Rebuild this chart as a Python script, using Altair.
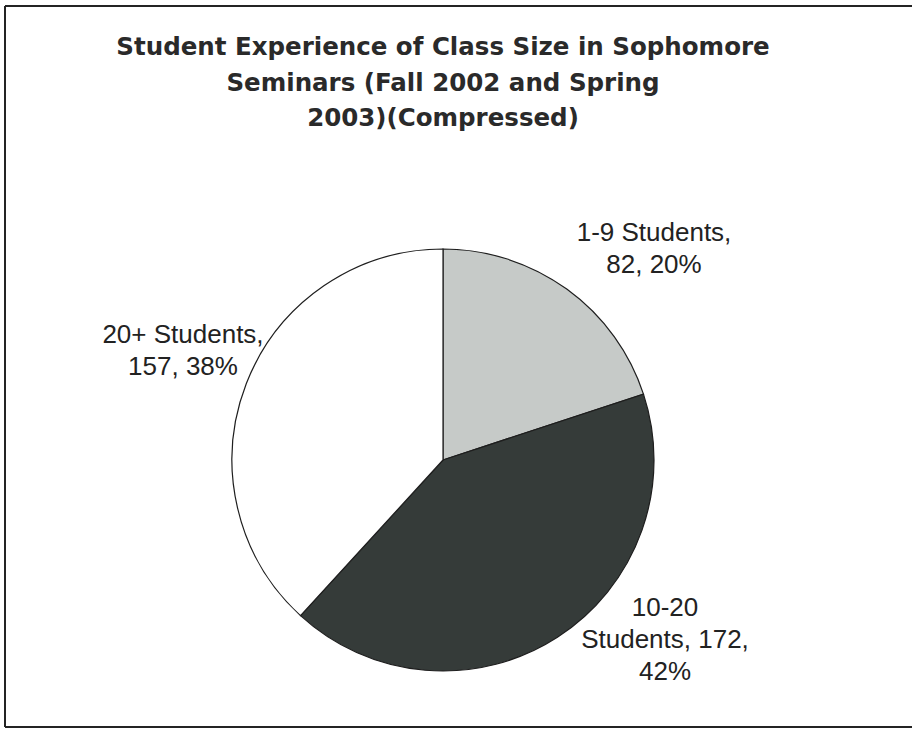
import altair as alt
import pandas as pd

# ---- data ----
categories = ["1-9 Students", "10-20 Students", "20+ Students"]
counts = [82, 172, 157]
percents = [20, 42, 38]

title_lines = [
    "Student Experience of Class Size in Sophomore",
    "Seminars (Fall 2002 and Spring",
    "2003)(Compressed)",
]

# ---- styling / layout (kept apart from the data) ----
slice_colors = ["#c6cac8", "#353b39", "#ffffff"]
# label wrapping as in the reference
label_text = [
    f"{categories[0]},\n{counts[0]}, {percents[0]}%",
    "10-20\nStudents, " + f"{counts[1]},\n{percents[1]}%",
    f"{categories[2]},\n{counts[2]}, {percents[2]}%",
]
# centre of the first line of each label, in plot pixels
label_px = [649, 660, 178]
label_py = [227, 602, 329]

W, H = 907, 721
CX, CY, R = 438, 454, 211

pie_df = pd.DataFrame({
    "category": categories,
    "count": counts,
    "order": list(range(len(categories))),
})

label_df = pd.DataFrame({
    "label": label_text,
    "px": label_px,
    "py": label_py,
})

title_df = pd.DataFrame({"t": ["\n".join(title_lines)]})

pie = alt.Chart(pie_df).mark_arc(
    radius=R, stroke="#1e1e1e", strokeWidth=1.2
).encode(
    theta=alt.Theta("count:Q", stack=True),
    color=alt.Color(
        "category:N",
        scale=alt.Scale(domain=categories, range=slice_colors),
        legend=None,
    ),
    order=alt.Order("order:Q"),
    x=alt.value(CX),
    y=alt.value(CY),
)

labels = alt.Chart(label_df).mark_text(
    font="Liberation Sans",
    fontSize=26,
    lineHeight=32,
    lineBreak="\n",
    align="center",
    baseline="middle",
    color="#222222",
).encode(
    x=alt.X("px:Q", scale=None),
    y=alt.Y("py:Q", scale=None),
    text="label:N",
)

title = alt.Chart(title_df).mark_text(
    font="DejaVu Sans",
    fontWeight="bold",
    fontSize=24.5,
    lineHeight=35.5,
    lineBreak="\n",
    align="center",
    baseline="alphabetic",
    color="#2a2a2a",
).encode(
    x=alt.value(CX),
    y=alt.value(49),
    text="t:N",
)

# frame: left, top and bottom edges (the right edge lies outside the picture)
frame_color = "#222222"
left_edge = alt.Chart(pie_df).mark_rule(color=frame_color, strokeWidth=1.5).encode(
    x=alt.value(0), y=alt.value(0), y2=alt.value(H)
)
top_edge = alt.Chart(pie_df).mark_rule(color=frame_color, strokeWidth=1.5).encode(
    x=alt.value(0), x2=alt.value(W + 10), y=alt.value(0)
)
bottom_edge = alt.Chart(pie_df).mark_rule(color=frame_color, strokeWidth=1.5).encode(
    x=alt.value(0), x2=alt.value(W + 10), y=alt.value(H)
)

chart = alt.layer(left_edge, top_edge, bottom_edge, pie, labels, title).properties(
    width=W,
    height=H,
    padding={"left": 5, "top": 6, "right": 0, "bottom": 2},
    autosize=alt.AutoSizeParams(type="none"),
    background="white",
).configure_view(
    stroke=None,
)

chart.save("out.html", embed_options={"renderer": "svg", "actions": False})
